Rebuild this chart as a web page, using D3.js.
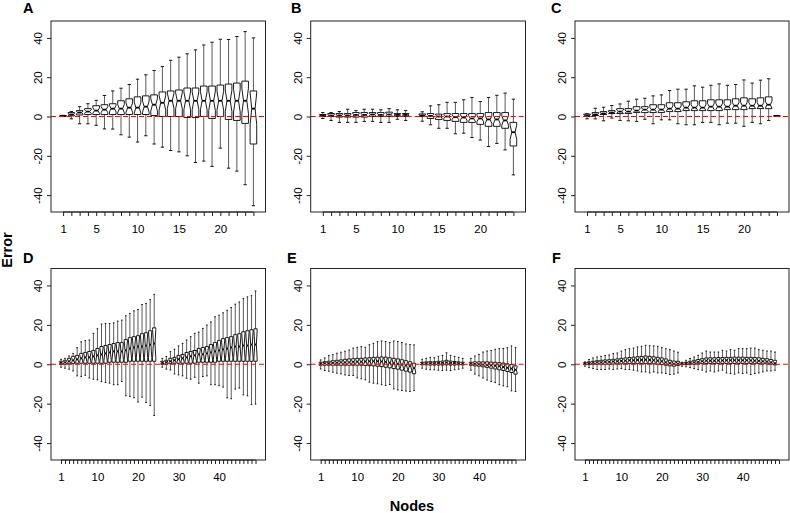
<!DOCTYPE html>
<html><head><meta charset="utf-8">
<script src="https://cdn.jsdelivr.net/npm/d3@7"></script>
<style>
body{margin:0;background:#fff}
svg{display:block}
text{font-family:"Liberation Sans",Arial,Helvetica,sans-serif;fill:#000}
</style>
</head><body>
<svg id="chart" width="790" height="513"></svg>
<script>
// ---------------- DATA ----------------
const panelIds = ["A","B","C","D","E","F"];
const nPositions = [24,24,24,49,49,49];
const xTickLabelsTop = [1,5,10,15,20];
const xTickLabelsBottom = [1,10,20,30,40];
const yTickValues = [-40,-20,0,20,40];
const xAxisTitle = "Nodes";
const yAxisTitle = "Error";

// Panel A
const aLo  = [0,-1.2,-3.7,-3.7,-4.5,-6.3,-6.4,-9.3,-10.5,-13,-9.8,-14,-15.6,-17.3,-18,-20,-23.4,-22.7,-25.4,-16.1,-26.3,-27.8,-34.7,-45.4];
const aQ1  = [0.2,0.3,0.8,1,1,1,1,1,1,1,1,0.5,0,0,0,-0.5,-0.5,0,-1,0,-1.5,-2,-3.5,-14];
const aMed = [0.3,1,2,2.5,3,3.5,4,4,4.5,4.5,5,6,7,8,8,8,8,8,8,8,8,8,8,4];
const aQ3  = [0.4,2,3,4,5.5,6,6.5,8,9,10,10.5,11,12.5,13,13.5,14.5,14.5,15.5,15.5,16,16.5,17,18,13];
const aHi  = [0.6,2.5,5,6.5,8.2,10.7,13,14.4,16.3,19,21.2,23.4,25.4,28.6,30.2,31.9,33.9,36.4,37.8,39.3,39.2,40.7,43.2,40];

// Panel B
const bLo  = [-1,-2,-3,-3,-3,-2.5,-2.5,-3,-3,-1.4,-2,null,-2.4,-4.2,-6,-6,-8.8,-8.5,-10.7,-12,-15.3,-13.7,-17,-29.7];
const bQ1  = [0,0,-0.3,-0.3,-0.3,-0.3,0,0,0,0,0,null,0,-1,-1.5,-2,-2.5,-3,-3,-4,-5,-5,-6,-15];
const bMed = [0.5,0.5,0.5,0.5,0.8,0.8,1,0.8,1,0.8,0.8,null,0.5,0.3,0,0,-0.3,-0.5,-1,-1,-1.5,-1.5,-2,-8];
const bQ3  = [1,1.5,1.5,1.5,2,2,2,2,2.2,1.5,1.5,null,1.3,1.5,1.2,1.5,1.5,1.5,1.5,1.5,2,2,2,-3];
const bHi  = [2,2,2.5,3.7,3,3.7,3.7,3.4,4,3.4,3,null,2.4,5.4,6,7.2,7.2,8.5,9.7,7.6,9.7,10.8,11.9,8.8];

// Panel C
const cLo  = [-1.2,-1.2,-2.2,-0.8,-2,-2.2,-2.5,-1.4,-3.7,-1.7,-1.7,-3.7,-4.2,-4.2,-3,-3,-4.2,-3.4,-3.4,-5,-3,-3.7,-2,0.2];
const cQ1  = [0,0.5,1,1.5,1.5,1.5,2,2,2,2,2.5,2.5,3,3,3,3,3,3.5,3.5,3.5,4,4,4,0.3];
const cMed = [0.5,1,1.5,2,2.5,2.5,3,3.5,3.5,3.5,4,4,4.5,4.5,4.5,5,5,5,5.5,5.5,5.5,5.5,6,0.3];
const cQ3  = [1.2,2,2.5,3,4,4,5,5,6,6,7,7,7.5,8,8,8.5,8.5,8.5,9,9.5,9,9.5,10,0.3];
const cHi  = [1.4,4.2,4.7,5.6,6.4,7.8,8.8,9.3,10.5,11,13.2,13.9,13.9,15.6,14.9,15.9,16.6,15.9,16.3,18.6,17,18.5,19.2,0.4];

// Panel D
const dLo  = [-1.5,-2,-2.5,-3.4,-5.9,-6.2,-5.6,-7,-7.6,-7.9,-8.8,-9.3,-9.6,-10.4,-10.4,-8.8,-16,-16.3,-17,-19.2,-16.7,-19.4,-21,-26,
              null,
              -1.5,-2.5,-2.9,-4.9,-5.4,-5.9,-7.1,-7.6,-6.6,-9.6,-6.2,-5.9,-10.4,-10.4,-10.9,-11.6,-17,-17.5,-12.6,-12.1,-15.5,-16,-20.5,-20.2];
const dQ1  = [0,0,0.2,0.3,0.5,0.5,0.5,0.5,0.5,0.5,0.5,0.5,1,1,1,1,1,1.5,1.5,1.5,1.5,1.5,1.5,1.5,
              null,
              0,0,0.3,0.5,0.5,0.5,0.5,0.5,0.5,1,1,1,1,1,1.5,1.5,1.5,1.5,1.5,1.5,1.5,1.5,1.5,1.5];
const dMed = [0.7,1,1.5,2,2.5,3,3.5,3.5,4,4.5,5,5.5,6,6.5,6.5,6.5,7,8,8.5,9,9,9.5,10,10.5,
              null,
              0.7,1,1.5,2,2.5,3,3.5,4,4.5,5,5,5.5,6,6.5,7,7.5,8,8.5,9,9,9.5,9.5,10,10];
const dQ3  = [1.5,2,3,4,4.5,5.5,6,6.5,7,8,9,9.5,10,10.5,11,11,12.5,13.5,14,14.5,15.5,16,17,18.5,
              null,
              1.5,2,3,3.5,4.5,5,6,6.5,7,8,8.5,9,10,11,12,13,13.5,14,15,15.5,16.5,17,17.5,18];
const dHi  = [2.5,3,4.2,5.5,8.4,11.4,12,12.3,15.7,18,20.4,20.7,20.7,21,21.9,22.4,24.6,25.8,27.1,27.8,30.3,30.8,32.8,35.5,
              null,
              3,3.9,6.4,7.6,9.3,10.6,12.3,14,15.7,16.3,18.2,19.9,21.5,24.1,24.9,26.1,27.4,28.8,30.5,31.6,33.3,34.2,34.8,37.2];

// Panel E
const eLo  = [-2.4,-3.2,-3.5,-4,-4.5,-4.9,-5.4,-5.7,-5.7,-6.9,-7.4,-7.9,-9.1,-9.6,-9.9,-10.4,-10.8,-10.3,-12.5,-13,-13.3,-13.6,-13.8,-13.3,
              null,
              -2,-2.5,-2.8,-2.8,-3,-3.2,-3,-3.2,-2.8,-2.5,-2,
              null,
              -3,-5,-5.9,-7,-8,-8.8,-9.3,-10.4,-11,-11.4,-13.5,-13.8];
const eQ1  = [-0.5,-0.5,-0.5,-0.5,-0.5,-0.5,-0.5,-0.5,-0.5,-0.5,-0.5,-0.6,-0.7,-0.8,-1,-1.2,-1.5,-1.8,-2.2,-2.5,-3,-3.5,-4,-4.8,
              null,
              -0.3,-0.3,-0.4,-0.4,-0.4,-0.4,-0.3,-0.4,-0.4,-0.3,-0.3,
              null,
              -0.5,-0.8,-1,-1.3,-1.6,-2,-2.4,-2.8,-3.2,-3.7,-4.2,-5];
const eMed = [0.3,0.5,0.5,0.7,0.8,1,1,1,1.2,1.3,1.3,1.4,1.5,1.5,1.5,1.4,1.2,0.8,0.5,0.2,-0.2,-0.6,-1,-2,
              null,
              0.4,0.5,0.5,0.5,0.6,0.7,0.9,0.7,0.6,0.5,0.4,
              null,
              0.3,0.2,0,-0.2,-0.4,-0.6,-0.8,-1,-1.4,-1.8,-2.2,-2.8];
const eQ3  = [1,1.3,1.5,1.8,2,2.2,2.5,2.7,2.8,3,3,3.2,3.3,3.5,3.6,3.7,3.6,3.3,3,2.7,2.3,1.8,1.3,0.5,
              null,
              1,1.2,1.3,1.3,1.5,1.6,2,1.6,1.4,1.2,1,
              null,
              1,1.2,1.2,1.2,1.2,1.1,1,0.8,0.6,0.2,-0.2,-0.8];
const eHi  = [2.2,3.2,4.4,4.9,5.6,6.1,6.6,7.2,8.2,8.6,8.9,8.6,9.9,10.6,11.5,11.8,11.5,11,11.8,11.5,11,10.3,10,9.8,
              null,
              2.5,3,3.5,3.3,4,4.5,5.8,4.5,4,3.5,3,
              null,
              3,4.2,5,6.2,6.7,7,7.6,7.9,8,8.4,9.3,8.4];

// Panel F
const fLo  = [-1,-1.7,-2.2,-2.7,-2.7,-2.7,-2.4,-2.7,-2.4,-2.2,-2.7,-2.7,-3,-3.4,-3.9,-3.9,-4.4,-3.9,-4.4,-4.4,-4.7,-5.2,-5,-4.4,
              -1,-1.3,-1.7,-2.2,-2.7,-3,-3.9,-3.4,-3.9,-3.4,-3,-4.4,-4.7,-5,-4.4,-4.7,-4.4,-5.2,-4.7,-4.4,-3.9,-3.4,-3.4,-3,
              null];
const fQ1  = [-0.2,-0.2,0,0,0,0,0,0.1,0.2,0.2,0.3,0.3,0.3,0.3,0.3,0.3,0.3,0.2,0,-0.2,-0.5,-0.8,-1,-0.6,
              -0.2,-0.2,0,0,0.2,0.3,0.4,0.4,0.4,0.4,0.4,0.4,0.4,0.4,0.4,0.4,0.4,0.4,0.3,0.3,0.2,0.2,0,-0.3,
              null];
const fMed = [0.3,0.5,0.8,1,1,1.2,1.2,1.4,1.5,1.7,1.8,2,2,2.2,2.2,2.3,2.2,2,1.8,1.5,1,0.5,0.2,0.3,
              0.3,0.5,0.7,1,1.2,1.5,1.8,1.8,1.8,1.9,1.9,2,2,2,2,2,2,1.9,1.8,1.7,1.5,1.3,1,0.5,
              null];
const fQ3  = [0.8,1.2,1.5,1.8,2,2.2,2.3,2.5,2.7,3,3.2,3.4,3.6,3.8,4,4.2,4,3.8,3.5,3.2,2.7,2,1.6,1.5,
              0.7,1,1.5,2,2.4,2.8,3.2,3.3,3.3,3.4,3.4,3.5,3.5,3.6,3.6,3.6,3.5,3.5,3.4,3.3,3,2.8,2.4,2,
              null];
const fHi  = [1.2,2.4,3.2,3.7,4,4.4,4.7,5.4,5.7,6.7,7.4,7.9,8.2,8.8,9.1,9.6,9.4,9.3,9.1,8.4,7.9,7.4,6.7,6.1,
              1,2,2.9,3.7,4.5,5.7,6.7,6.2,6.2,6.2,7.1,6.7,7.4,7.1,7.9,7.9,7.9,8.2,8.2,7.4,7.1,6.7,6.7,6.2,
              null];

// ---------------- LAYOUT ----------------
const panelStats = [
  {lo:aLo,q1:aQ1,med:aMed,q3:aQ3,hi:aHi},
  {lo:bLo,q1:bQ1,med:bMed,q3:bQ3,hi:bHi},
  {lo:cLo,q1:cQ1,med:cMed,q3:cQ3,hi:cHi},
  {lo:dLo,q1:dQ1,med:dMed,q3:dQ3,hi:dHi},
  {lo:eLo,q1:eQ1,med:eMed,q3:eQ3,hi:eHi},
  {lo:fLo,q1:fQ1,med:fMed,q3:fQ3,hi:fHi}
];
const notchFactor = [0.3,0.3,0.3,0.42,0.38,0.4];
const cols = [{x0:51,x1:265.5},{x0:310.7,x1:525.5},{x0:575,x1:789}];
const rows = [{y0:21,y1:212},{y0:268.5,y1:460}];
const labelPos = [[23,13],[291,13],[551,13],[23,263],[287,263],[552,263]];
const yDomain = [-48.6,48.6];

const svg = d3.select("#chart");

panelIds.forEach((id, k) => {
  const col = cols[k % 3], row = rows[Math.floor(k / 3)];
  const n = nPositions[k];
  const st = panelStats[k];
  const labels = k < 3 ? xTickLabelsTop : xTickLabelsBottom;
  const x = d3.scaleLinear().domain([0.5 - 0.04 * n, n + 0.5 + 0.04 * n]).range([col.x0, col.x1]);
  const y = d3.scaleLinear().domain(yDomain).range([row.y1, row.y0]);
  const g = svg.append("g");

  const data = d3.range(n).map(i => ({
    pos: i + 1, lo: st.lo[i], q1: st.q1[i], med: st.med[i], q3: st.q3[i], hi: st.hi[i]
  })).filter(d => d.med !== null);

  const wid = 0.4;
  const boxes = g.selectAll("g.box").data(data).join("g").attr("class", "box");

  // whiskers
  boxes.append("line")
    .attr("x1", d => x(d.pos)).attr("x2", d => x(d.pos))
    .attr("y1", d => y(d.q1)).attr("y2", d => y(d.lo))
    .attr("stroke", "#5a5a5a").attr("stroke-width", 1);
  boxes.append("line")
    .attr("x1", d => x(d.pos)).attr("x2", d => x(d.pos))
    .attr("y1", d => y(d.q3)).attr("y2", d => y(d.hi))
    .attr("stroke", "#5a5a5a").attr("stroke-width", 1);
  // staples
  ["lo","hi"].forEach(key => {
    boxes.append("line")
      .attr("x1", d => x(d.pos - wid * 0.5)).attr("x2", d => x(d.pos + wid * 0.5))
      .attr("y1", d => y(d[key])).attr("y2", d => y(d[key]))
      .attr("stroke", "#111").attr("stroke-width", 1);
  });
  // notched box
  boxes.append("path")
    .attr("d", d => {
      const h = notchFactor[k] * (d.q3 - d.q1);
      const cl = d.med - h, ch = d.med + h;
      const pts = [
        [d.pos - wid, d.q1], [d.pos + wid, d.q1], [d.pos + wid, cl], [d.pos + wid * 0.5, d.med],
        [d.pos + wid, ch], [d.pos + wid, d.q3], [d.pos - wid, d.q3], [d.pos - wid, ch],
        [d.pos - wid * 0.5, d.med], [d.pos - wid, cl]
      ];
      return "M" + pts.map(p => x(p[0]).toFixed(2) + "," + y(p[1]).toFixed(2)).join("L") + "Z";
    })
    .attr("fill", "#fff").attr("stroke", "#000").attr("stroke-width", 0.9);
  // median
  boxes.append("line")
    .attr("x1", d => x(d.pos - wid * 0.5)).attr("x2", d => x(d.pos + wid * 0.5))
    .attr("y1", d => y(d.med)).attr("y2", d => y(d.med))
    .attr("stroke", "#000").attr("stroke-width", 1.8);

  // red reference line
  g.append("line")
    .attr("x1", col.x0).attr("x2", col.x1)
    .attr("y1", y(0)).attr("y2", y(0))
    .attr("stroke", "#ff0000").attr("stroke-width", 1)
    .attr("stroke-dasharray", "5,3");

  // frame
  g.append("rect")
    .attr("x", col.x0).attr("y", row.y0)
    .attr("width", col.x1 - col.x0).attr("height", row.y1 - row.y0)
    .attr("fill", "none").attr("stroke", "#222").attr("stroke-width", 1);

  // x axis
  const xAxis = d3.axisBottom(x)
    .tickValues(d3.range(1, n + 1))
    .tickFormat(d => labels.includes(d) ? String(d) : "")
    .tickSizeInner(4).tickSizeOuter(0);
  const gx = g.append("g").attr("transform", `translate(0,${row.y1})`).call(xAxis);
  gx.select(".domain").remove();
  gx.append("line").attr("x1", x(1)).attr("x2", x(n)).attr("stroke", "#222");
  gx.selectAll(".tick line").attr("stroke", "#222");
  gx.selectAll(".tick text").attr("y", 21).attr("dy", 0)
    .style("font-size", "11.5px").style("font-family", '"Liberation Sans",Arial,sans-serif').attr("fill", "#111");

  // y axis
  const yAxis = d3.axisLeft(y).tickValues(yTickValues)
    .tickFormat(d => String(d)).tickSizeInner(4).tickSizeOuter(0);
  const gy = g.append("g").attr("transform", `translate(${col.x0},0)`).call(yAxis);
  gy.select(".domain").remove();
  gy.selectAll(".tick line").attr("stroke", "#222");
  gy.selectAll(".tick text")
    .attr("transform", "rotate(-90)").attr("x", 0).attr("y", -9).attr("dy", 0)
    .style("text-anchor", "middle")
    .style("font-size", "11.5px").style("font-family", '"Liberation Sans",Arial,sans-serif').attr("fill", "#111");

  // panel label
  svg.append("text").attr("x", labelPos[k][0]).attr("y", labelPos[k][1])
    .style("font-size", "14.5px").style("font-weight", "bold").text(id);
});

svg.append("text").attr("x", 412).attr("y", 511)
  .attr("text-anchor", "middle").style("font-size", "14.5px").style("font-weight", "bold")
  .text(xAxisTitle);
svg.append("text").attr("transform", "translate(12,250) rotate(-90)")
  .attr("text-anchor", "middle").style("font-size", "14.5px").style("font-weight", "bold")
  .text(yAxisTitle);
</script>
</body></html>
